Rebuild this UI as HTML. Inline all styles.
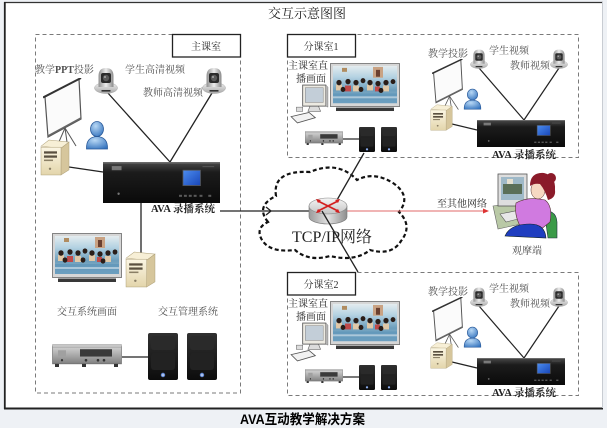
<!DOCTYPE html>
<html><head><meta charset="utf-8">
<style>
html,body{margin:0;padding:0;background:#eef1f5;}
svg{display:block;}
.t{font-family:"Liberation Serif","Noto Serif CJK SC",serif;font-size:10px;fill:#505050;}
.d{fill:#2a2a2a;}
.b{font-family:"Liberation Serif","Noto Serif CJK SC",serif;font-size:10.5px;font-weight:bold;fill:#222;}
</style></head><body>
<svg width="607" height="428" viewBox="0 0 607 428" xmlns="http://www.w3.org/2000/svg">
<defs>
 <linearGradient id="gCamBase" x1="0" y1="0" x2="0" y2="1"><stop offset="0" stop-color="#f2f2f2"/><stop offset="1" stop-color="#a8a8a8"/></linearGradient>
 <linearGradient id="gCamBody" x1="0" y1="0" x2="1" y2="0"><stop offset="0" stop-color="#909090"/><stop offset=".5" stop-color="#ececec"/><stop offset="1" stop-color="#8a8a8a"/></linearGradient>
 <radialGradient id="gPer" cx=".4" cy=".3" r=".8"><stop offset="0" stop-color="#b8d8f5"/><stop offset="1" stop-color="#3372bd"/></radialGradient>
 <linearGradient id="gPc" x1="0" y1="0" x2="0" y2="1"><stop offset="0" stop-color="#fbf6e4"/><stop offset="1" stop-color="#e3d5ab"/></linearGradient>
 <linearGradient id="gAva" x1="0" y1="0" x2="0" y2="1"><stop offset="0" stop-color="#4a4a4a"/><stop offset=".25" stop-color="#1c1c1c"/><stop offset="1" stop-color="#0a0a0a"/></linearGradient>
 <linearGradient id="gLcd" x1="0" y1="0" x2="1" y2="1"><stop offset="0" stop-color="#4c8df0"/><stop offset="1" stop-color="#1846b8"/></linearGradient>
 <linearGradient id="gSpk" x1="0" y1="0" x2="0" y2="1"><stop offset="0" stop-color="#303030"/><stop offset="1" stop-color="#0c0c0c"/></linearGradient>
 <linearGradient id="gAmp" x1="0" y1="0" x2="0" y2="1"><stop offset="0" stop-color="#d4d4d4"/><stop offset="1" stop-color="#808080"/></linearGradient>
 <linearGradient id="gTvImg" x1="0" y1="0" x2="0" y2="1"><stop offset="0" stop-color="#e4ecef"/><stop offset=".3" stop-color="#b4d2e2"/><stop offset=".65" stop-color="#6c9dbb"/><stop offset="1" stop-color="#95bdd3"/></linearGradient>
 <linearGradient id="gRtTop" x1="0" y1="0" x2="0" y2="1"><stop offset="0" stop-color="#f4f4f4"/><stop offset="1" stop-color="#c4c4c4"/></linearGradient>
 <linearGradient id="gRtSide" x1="0" y1="0" x2="1" y2="0"><stop offset="0" stop-color="#9a9a9a"/><stop offset=".5" stop-color="#e2e2e2"/><stop offset="1" stop-color="#8e8e8e"/></linearGradient>

 <symbol id="cam" viewBox="0 0 24 28" preserveAspectRatio="none">
  <ellipse cx="12" cy="22" rx="11.5" ry="5.5" fill="url(#gCamBase)" stroke="#999" stroke-width=".4"/>
  <path d="M4.5 21 V10 Q4.5 2 12 2 Q19.5 2 19.5 10 V21 Z" fill="url(#gCamBody)"/>
  <rect x="7" y="7" width="10" height="10" rx="2" fill="#2b2b2b"/>
  <circle cx="12" cy="12" r="3.2" fill="#5a5a5a"/>
  <circle cx="11" cy="11" r="1" fill="#aaa"/>
  <rect x="7.5" y="24" width="9" height="1.6" fill="#333"/>
 </symbol>

 <symbol id="scr" viewBox="0 0 40 70" preserveAspectRatio="none">
  <line x1="22" y1="50" x2="24" y2="64" stroke="#555" stroke-width="1"/>
  <line x1="22" y1="50" x2="33" y2="68" stroke="#555" stroke-width="1"/>
  <line x1="22" y1="50" x2="15" y2="66" stroke="#555" stroke-width="1"/>
  <polygon points="2,19 36,1 38,41 5,59" fill="#fbfbfb" stroke="#555" stroke-width="1.2"/>
  <line x1="0" y1="19.5" x2="38" y2="0" stroke="#333" stroke-width="2"/>
  <line x1="5" y1="58" x2="38" y2="40" stroke="#666" stroke-width="1.6"/>
 </symbol>

 <symbol id="per" viewBox="0 0 24 30" preserveAspectRatio="none">
  <path d="M1.5 29 Q1 17 12 16.5 Q23 17 22.5 29 Z" fill="url(#gPer)" stroke="#2a5a9a" stroke-width=".8"/>
  <ellipse cx="12" cy="9" rx="6.5" ry="7.5" fill="url(#gPer)" stroke="#2a5a9a" stroke-width=".8"/>
 </symbol>

 <symbol id="pc" viewBox="0 0 30 36" preserveAspectRatio="none">
  <polygon points="1,7 9,1 29,3 21,9" fill="#f7efd6" stroke="#b0a27a" stroke-width=".5"/>
  <polygon points="21,9 29,3 29,30 21,35" fill="#d6c69c" stroke="#b0a27a" stroke-width=".5"/>
  <rect x="1" y="8" width="20" height="27" fill="url(#gPc)" stroke="#b0a27a" stroke-width=".5"/>
  <rect x="4" y="12" width="13" height="2.2" fill="#5a5040"/>
  <rect x="4" y="16" width="13" height="2.2" fill="#5a5040"/>
  <rect x="4" y="20" width="9" height="1.5" fill="#8a7f65"/>
  <circle cx="10" cy="29" r="1.2" fill="#8a7f65"/>
 </symbol>

 <symbol id="ava" viewBox="0 0 120 40" preserveAspectRatio="none">
  <rect x="0" y="0" width="120" height="40" fill="url(#gAva)"/>
  <rect x="0" y="0" width="120" height="1.5" fill="#6a6a6a"/>
  <rect x="9" y="4" width="10" height="4" fill="#999" opacity=".7"/>
  <rect x="82" y="8" width="18" height="15" fill="url(#gLcd)" stroke="#555" stroke-width=".8"/>
  <rect x="102" y="4" width="12" height="1" fill="#555"/>
  <g fill="#5a5a5a"><rect x="78" y="32" width="3" height="2"/><rect x="83" y="32" width="3" height="2"/><rect x="88" y="32" width="3" height="2"/><rect x="93" y="32" width="3" height="2"/><rect x="99" y="32" width="3" height="2"/><rect x="108" y="32" width="3" height="2"/></g>
  <circle cx="16" cy="31" r="1.2" fill="#777"/>
 </symbol>

 <symbol id="tv" viewBox="0 0 70 50" preserveAspectRatio="none">
  <rect x="0.5" y="0.5" width="69" height="44" fill="#d6d6d6" stroke="#6a6a6a" stroke-width=".8"/>
  <g transform="translate(3,3)">
   <rect width="64" height="38" fill="url(#gTvImg)"/>
   <rect x="9" y="2" width="5" height="4" fill="#b08c60"/>
   <rect x="40" y="1" width="10" height="11" fill="#c9a283"/>
   <rect x="43" y="4" width="4" height="7" fill="#6a4030"/>
   <g fill="#e0c8a8"><rect x="3" y="19" width="6" height="6"/><rect x="20" y="20" width="6" height="6"/><rect x="34" y="19" width="6" height="6"/><rect x="50" y="20" width="6" height="6"/></g>
   <g fill="#c04a4a"><rect x="12" y="20" width="6" height="6"/><rect x="42" y="21" width="5" height="5"/></g>
   <g fill="#2a1d18">
    <ellipse cx="6" cy="17" rx="2.6" ry="2.8"/><ellipse cx="15" cy="16" rx="2.6" ry="2.8"/><ellipse cx="23" cy="17" rx="2.6" ry="2.8"/>
    <ellipse cx="30" cy="15" rx="2.4" ry="2.6"/><ellipse cx="37" cy="17" rx="2.6" ry="2.8"/><ellipse cx="45" cy="18" rx="2.6" ry="2.8"/>
    <ellipse cx="53" cy="17" rx="2.6" ry="2.8"/><ellipse cx="60" cy="16" rx="2.4" ry="2.6"/>
    <ellipse cx="10" cy="24" rx="2.4" ry="2.6"/><ellipse cx="28" cy="24" rx="2.4" ry="2.6"/><ellipse cx="48" cy="25" rx="2.4" ry="2.6"/>
   </g>
   <rect x="0" y="28" width="64" height="10" fill="#5e94b8" opacity=".75"/>
   <rect x="0" y="31" width="64" height="2" fill="#d8e6ee" opacity=".6"/>
  </g>
  <rect x="6" y="45.5" width="58" height="3.5" fill="#383838"/>
 </symbol>

 <symbol id="spk" viewBox="0 0 30 47" preserveAspectRatio="none">
  <rect x="0" y="0" width="30" height="47" rx="2" fill="url(#gSpk)"/>
  <rect x="3" y="3" width="24" height="14" rx="3" fill="#2a2a2a"/>
  <rect x="3" y="20" width="24" height="17" rx="3" fill="#222"/>
  <circle cx="15" cy="42" r="2.2" fill="#6a8fd8"/>
  <circle cx="15" cy="42" r=".8" fill="#fff"/>
 </symbol>

 <symbol id="amp" viewBox="0 0 70 22" preserveAspectRatio="none">
  <rect x="0.5" y="2" width="69" height="17" fill="url(#gAmp)" stroke="#666" stroke-width=".6"/>
  <rect x="0.5" y="0.5" width="69" height="2.5" fill="#c8c8c8" stroke="#888" stroke-width=".4"/>
  <rect x="28" y="5" width="32" height="7" fill="#3a3a3a"/>
  <rect x="6" y="6" width="8" height="6" fill="#a0a0a0"/>
  <g fill="#333"><circle cx="34" cy="15.5" r="1.3"/><circle cx="46" cy="15.5" r="1.3"/><circle cx="52" cy="15.5" r="1.3"/><circle cx="10" cy="15.5" r="1.1"/></g>
  <g fill="#333"><rect x="3" y="19" width="4" height="3"/><rect x="30" y="19" width="4" height="3"/><rect x="62" y="19" width="4" height="3"/></g>
 </symbol>

 <symbol id="mon" viewBox="0 0 38 38" preserveAspectRatio="none">
  <polygon points="20,21 28,21 30,26 18,26" fill="#dcdcdc" stroke="#666" stroke-width=".6"/>
  <rect x="13" y="1" width="22" height="20" fill="#eceae2" stroke="#555" stroke-width=".8"/>
  <rect x="15.5" y="3.5" width="17" height="14" fill="#c3ced8" stroke="#888" stroke-width=".5"/>
  <polygon points="35,1 37,3 37,22 35,21" fill="#bbb" stroke="#666" stroke-width=".4"/>
  <rect x="7" y="22" width="6" height="4" fill="#ddd" stroke="#666" stroke-width=".5"/>
  <polygon points="2,31 19,27 25,32 8,37" fill="#f2f2f2" stroke="#555" stroke-width=".8"/>
 </symbol>

 <g id="sub">
  <rect x="287.5" y="34.5" width="291" height="123" fill="none" stroke="#7a7a7a" stroke-width="1" stroke-dasharray="4 3"/>
  <use href="#mon" x="289" y="84" width="40" height="40"/>
  <use href="#tv" x="330" y="63" width="70" height="49"/>
  <line x1="343" y1="139" x2="359" y2="139" stroke="#222" stroke-width="1.2"/>
  <use href="#amp" x="305" y="131" width="38" height="14"/>
  <use href="#spk" x="359" y="127" width="16" height="25"/>
  <use href="#spk" x="381" y="127" width="16" height="25"/>
  <line x1="479" y1="68" x2="524" y2="120" stroke="#222" stroke-width="1.2"/>
  <line x1="559" y1="68" x2="524" y2="120" stroke="#222" stroke-width="1.2"/>
  <line x1="452" y1="124" x2="477" y2="130" stroke="#222" stroke-width="1.2"/>
  <use href="#scr" x="432" y="59" width="32" height="52"/>
  <use href="#pc" x="430" y="104" width="23" height="27"/>
  <use href="#per" x="463" y="88" width="19" height="22"/>
  <use href="#cam" x="470" y="48" width="18" height="21"/>
  <use href="#cam" x="550" y="48" width="18" height="21"/>
  <use href="#ava" x="477" y="120" width="88" height="27"/>
  <text class="t d" x="288" y="69">主课室直</text>
  <text class="t d" x="296" y="82">播画面</text>
  <text class="t" x="428" y="57">教学投影</text>
  <text class="t" x="489" y="54">学生视频</text>
  <text class="t" x="510" y="69">教师视频</text>
  <text class="b" x="524" y="158" text-anchor="middle">AVA 录播系统</text>
  <rect x="287.5" y="34.5" width="68" height="22.5" fill="#fff" stroke="#222" stroke-width="1.3"/>
 </g>
</defs>

<!-- frame -->
<rect x="4" y="2" width="599" height="406" fill="#fff"/>
<line x1="4" y1="2.5" x2="603" y2="2.5" stroke="#333" stroke-width="1.2"/>
<line x1="4.8" y1="2" x2="4.8" y2="409" stroke="#222" stroke-width="1.8"/>
<line x1="4" y1="408.5" x2="603" y2="408.5" stroke="#222" stroke-width="2"/>
<line x1="602.5" y1="2" x2="602.5" y2="408" stroke="#c8ccd2" stroke-width="1"/>

<text x="268" y="18" style="font-family:'Liberation Serif','Noto Serif CJK SC',serif;font-size:13px;fill:#222;">交互示意图图</text>

<!-- main classroom -->
<rect x="35.5" y="34.5" width="205" height="358.5" fill="none" stroke="#7a7a7a" stroke-width="1" stroke-dasharray="4 3"/>
<rect x="172.5" y="34.5" width="68" height="22.5" fill="#fff" stroke="#222" stroke-width="1.3"/>
<text class="t d" x="206" y="50" text-anchor="middle">主课室</text>

<line x1="107" y1="92" x2="170" y2="162" stroke="#222" stroke-width="1.3"/>
<line x1="212" y1="93" x2="170" y2="162" stroke="#222" stroke-width="1.3"/>
<line x1="69" y1="167" x2="103" y2="172" stroke="#222" stroke-width="1.3"/>
<line x1="141" y1="203" x2="141" y2="253" stroke="#222" stroke-width="1.3"/>
<use href="#scr" x="43" y="78" width="40" height="70"/>
<use href="#pc" x="40" y="139" width="30" height="37"/>
<use href="#per" x="85" y="120" width="24" height="30"/>
<use href="#cam" x="94" y="66" width="24" height="28"/>
<use href="#cam" x="202" y="66" width="24" height="28"/>
<use href="#ava" x="103" y="162" width="117" height="41"/>
<text class="t" x="35" y="73">教学<tspan font-weight="bold">PPT</tspan>投影</text>
<text class="t" x="125" y="73">学生高清视频</text>
<text class="t" x="143" y="96">教师高清视频</text>
<text class="b" x="183" y="212" text-anchor="middle">AVA 录播系统</text>
<use href="#tv" x="52" y="233" width="70" height="50"/>
<use href="#pc" x="125" y="251" width="31" height="37"/>
<text class="t" x="57" y="315">交互系统画面</text>
<text class="t" x="158" y="315">交互管理系统</text>
<line x1="122" y1="357" x2="148" y2="357" stroke="#222" stroke-width="1.3"/>
<use href="#amp" x="52" y="344" width="70" height="23"/>
<use href="#spk" x="148" y="333" width="30" height="47"/>
<use href="#spk" x="187" y="333" width="30" height="47"/>

<!-- sub classrooms -->
<use href="#sub"/>
<text class="t d" x="321" y="50" text-anchor="middle">分课室1</text>
<use href="#sub" y="238"/>
<text class="t d" x="321" y="288" text-anchor="middle">分课室2</text>

<!-- cloud -->
<path d="M268 222 Q255 206 276 196 Q272 170 310 172 Q338 160 357 180 Q374 171 393 183 Q412 196 399 212 Q413 226 401 241 Q392 256 370 250 Q355 262 330 256 Q309 262 295 250 Q270 253 262 240 Q255 228 268 222 Z" fill="none" stroke="#111" stroke-width="2.2" stroke-dasharray="4 2.6"/>

<!-- links -->
<line x1="220" y1="211" x2="312" y2="211" stroke="#222" stroke-width="1.3"/>
<path d="M266 207 L271 211 L266 215" fill="none" stroke="#222" stroke-width="1.3"/>
<line x1="364" y1="153" x2="337" y2="200" stroke="#222" stroke-width="1.3"/>
<line x1="347" y1="211" x2="484" y2="211" stroke="#e06a6a" stroke-width="0.9"/>
<polygon points="483,208.5 489,211 483,213.5" fill="#d33"/>

<!-- router -->
<path d="M309 206 V217 A19 7 0 0 0 347 217 V206 Z" fill="url(#gRtSide)" stroke="#777" stroke-width=".6"/>
<ellipse cx="328" cy="206" rx="19" ry="8" fill="url(#gRtTop)" stroke="#888" stroke-width=".6"/>
<g stroke="#d42020" stroke-width="1.8" fill="none">
 <line x1="318" y1="201" x2="338" y2="211"/>
 <line x1="318" y1="211" x2="338" y2="201"/>
</g>
<g fill="#d42020">
 <polygon points="316,199 321,200 318,203"/>
 <polygon points="340,213 335,212 338,209"/>
 <polygon points="316,213 318,209 321,212"/>
 <polygon points="340,199 338,203 335,200"/>
</g>
<line x1="322" y1="211" x2="358" y2="272" stroke="#222" stroke-width="1.3"/>
<text x="292" y="242" style="font-family:'Liberation Serif','Noto Serif CJK SC',serif;font-size:16px;fill:#222;">TCP/IP网络</text>

<text class="t d" x="437" y="207">至其他网络</text>

<!-- viewer -->
<polygon points="493,206 531,200 535,221 498,229" fill="#b9c9a6" stroke="#666" stroke-width=".6"/>
<rect x="498" y="174" width="29" height="32" fill="#dedede" stroke="#555" stroke-width=".8"/>
<rect x="501" y="177" width="23" height="23" fill="#9fb9c8"/>
<rect x="503" y="184" width="19" height="10" fill="#5b6f58"/>
<rect x="507" y="179" width="6" height="5" fill="#e6e0d0"/>
<polygon points="500,214 520,210 526,217 506,222" fill="#e8e8e8" stroke="#555" stroke-width=".6"/>
<path d="M540 212 Q556 208 557 222 L557 238 L548 238 L546 224 Z" fill="#3a9a48" stroke="#234" stroke-width=".6"/>
<path d="M516 203 Q528 196 545 200 Q553 206 550 222 L540 230 L520 226 Q514 214 516 203 Z" fill="#d07ae0" stroke="#533" stroke-width=".6"/>
<path d="M505 236 Q510 224 530 224 Q545 224 546 238 Z" fill="#1f3ec0" stroke="#122" stroke-width=".6"/>
<ellipse cx="538" cy="190" rx="7" ry="9" fill="#f6d8c2" stroke="#533" stroke-width=".5"/>
<path d="M530 186 Q530 172 544 173 Q556 176 555 190 Q556 198 548 200 Q545 190 540 184 Q534 183 530 186 Z" fill="#8b1b2a"/>
<circle cx="551" cy="178" r="5" fill="#8b1b2a"/>
<text class="t" x="512" y="254">观摩端</text>

<!-- caption -->
<text x="240" y="424" textLength="125" lengthAdjust="spacingAndGlyphs" style="font-family:'Liberation Sans','Noto Sans CJK SC',sans-serif;font-size:13.5px;font-weight:bold;fill:#000;">AVA互动教学解决方案</text>
</svg>
</body></html>
